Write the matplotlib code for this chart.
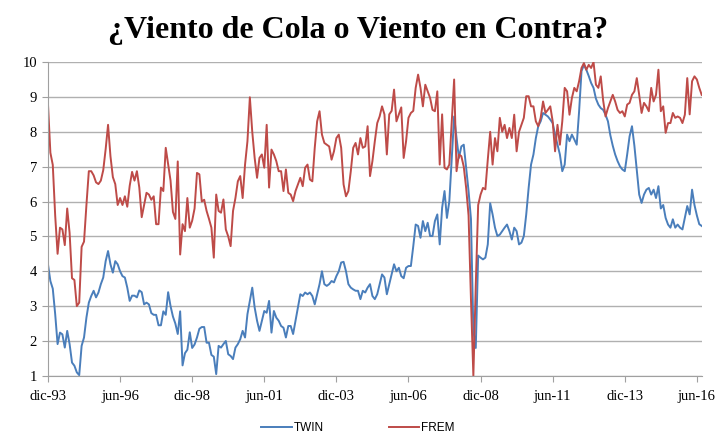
import matplotlib
matplotlib.use("Agg")
import matplotlib.pyplot as plt

# monthly values, dic-93 onwards
twin = [
    4.2, 3.72, 3.5, 2.77, 1.91, 2.24, 2.19, 1.81, 2.29, 1.91, 1.38, 1.29,
    1.1, 1.02, 1.86, 2.1, 2.67, 3.1, 3.29, 3.44, 3.25, 3.39, 3.63, 3.82,
    4.29, 4.58, 4.2, 3.96, 4.29, 4.2, 4.0, 3.86, 3.82, 3.53, 3.15, 3.3,
    3.3, 3.25, 3.45, 3.4, 3.05, 3.1, 3.05, 2.8, 2.75, 2.75, 2.45, 2.45,
    2.85, 2.75, 3.4, 3.0, 2.7, 2.5, 2.2, 2.85, 1.3, 1.65, 1.75, 2.25,
    1.8, 1.9, 2.1, 2.35, 2.4, 2.4, 1.95, 1.95, 1.6, 1.55, 1.05, 1.86,
    1.81, 1.91, 2.0, 1.62, 1.57, 1.48, 1.81, 1.91, 2.05, 2.29, 2.1, 2.77,
    3.15, 3.53, 2.96, 2.58, 2.29, 2.58, 2.86, 2.81, 3.15, 2.24, 2.86, 2.67,
    2.58, 2.43, 2.38, 2.1, 2.43, 2.43, 2.2, 2.58, 2.96, 3.34, 3.29, 3.39,
    3.34, 3.39, 3.29, 3.05, 3.34, 3.63, 4.0, 3.63, 3.58, 3.63, 3.72, 3.68,
    3.86, 4.0, 4.25, 4.27, 4.0, 3.63, 3.53, 3.48, 3.44, 3.44, 3.2, 3.44,
    3.39, 3.53, 3.63, 3.29, 3.2, 3.34, 3.63, 3.91, 3.82, 3.34, 3.63, 3.91,
    4.2, 4.0, 4.1, 3.86, 3.8, 4.1, 4.15, 4.15, 4.72, 5.34, 5.3, 4.96,
    5.44, 5.15, 5.39, 5.01, 5.01, 5.44, 5.63, 4.77, 5.82, 6.3, 5.53, 6.01,
    7.25, 8.44, 7.82, 7.25, 7.58, 7.63, 6.97, 6.3, 5.5, 2.3, 1.8, 4.45,
    4.39, 4.34, 4.39, 4.77, 5.95, 5.63, 5.25, 5.01, 5.05, 5.15, 5.25, 5.34,
    5.15, 4.91, 5.25, 5.15, 4.77, 4.82, 5.01, 5.63, 6.39, 7.06, 7.35, 7.82,
    8.16, 8.3, 8.54, 8.49, 8.44, 8.35, 8.25, 7.92, 7.63, 7.35, 6.87, 7.06,
    7.92, 7.73, 7.92, 7.78, 7.63, 8.59, 9.74, 9.92, 9.78, 9.6, 9.4, 9.26,
    8.95, 8.78, 8.68, 8.63, 8.49, 8.3, 7.9, 7.6, 7.35, 7.16, 7.01, 6.92,
    6.87, 7.35, 7.87, 8.16, 7.6, 6.9, 6.2, 5.96, 6.2, 6.34, 6.39, 6.2,
    6.34, 6.1, 6.44, 5.8, 5.9, 5.53, 5.34, 5.25, 5.49, 5.25, 5.34, 5.25,
    5.2, 5.53, 5.87, 5.63, 6.34, 5.9, 5.6, 5.35, 5.3,
]

frem = [
    8.8, 7.4, 7.05, 5.6, 4.5, 5.25, 5.2, 4.75, 5.8, 5.1, 3.8, 3.75,
    3.0, 3.1, 4.7, 4.85, 5.9, 6.87, 6.87, 6.75, 6.55, 6.5, 6.6, 6.9,
    7.5, 8.2, 7.3, 6.7, 6.5, 5.9, 6.1, 5.9, 6.15, 5.85, 6.45, 6.85,
    6.6, 6.87, 6.4, 5.55, 5.9, 6.25, 6.2, 6.05, 6.15, 5.35, 5.35, 6.4,
    6.3, 7.54, 7.06, 6.6, 5.7, 5.5, 7.15, 4.48, 5.35, 5.15, 6.1, 5.25,
    5.45, 5.8, 6.82, 6.78, 6.0, 6.05, 5.73, 5.5, 5.25, 4.39, 6.2, 5.73,
    5.68, 6.06, 5.2, 5.0, 4.72, 5.73, 6.1, 6.58, 6.73, 6.1, 7.06, 7.73,
    8.99, 8.0, 7.25, 6.68, 7.25, 7.35, 6.97, 8.2, 6.4, 7.49, 7.35, 7.16,
    6.87, 6.87, 6.3, 6.92, 6.25, 6.2, 6.01, 6.3, 6.49, 6.68, 6.44, 6.97,
    7.06, 6.63, 6.58, 7.54, 8.3, 8.59, 7.92, 7.68, 7.63, 7.58, 7.2, 7.44,
    7.82, 7.92, 7.54, 6.49, 6.15, 6.3, 6.87, 7.54, 7.68, 7.35, 7.82, 7.54,
    7.58, 8.16, 6.73, 7.16, 7.73, 8.25, 8.44, 8.73, 8.5, 7.35, 8.5, 8.6,
    9.21, 8.3, 8.5, 8.7, 7.25, 7.73, 8.4, 8.54, 8.6, 9.26, 9.64, 9.26,
    8.73, 9.35, 9.16, 8.97, 8.63, 8.59, 9.16, 7.06, 8.5, 6.97, 6.92, 7.06,
    8.3, 9.5, 6.87, 7.35, 7.3, 7.0, 6.39, 5.6, 3.2, 1.0, 3.6, 5.9,
    6.2, 6.39, 6.35, 7.2, 8.0, 7.06, 7.82, 7.44, 8.4, 8.0, 8.2, 7.82,
    8.11, 7.82, 8.49, 7.44, 8.0, 8.2, 8.4, 9.02, 9.02, 8.73, 8.73, 8.3,
    8.16, 8.4, 8.87, 8.54, 8.63, 8.73, 8.3, 7.44, 8.2, 7.63, 8.3, 9.26,
    9.16, 8.49, 8.97, 9.26, 9.16, 9.45, 9.83, 9.97, 9.78, 9.92, 9.83, 10.0,
    9.35, 9.26, 9.59, 8.9, 8.44, 8.68, 8.87, 9.06, 8.87, 8.63, 8.54, 8.59,
    8.44, 8.78, 8.83, 9.06, 9.16, 9.54, 9.06, 8.54, 8.83, 8.73, 8.59, 9.26,
    8.87, 9.06, 9.78, 8.59, 8.73, 7.97, 8.25, 8.25, 8.54, 8.4, 8.44, 8.4,
    8.25, 8.49, 9.54, 8.5, 9.45, 9.59, 9.5, 9.26, 9.06,
]

tick_labels = ["dic-93", "jun-96", "dic-98", "jun-01", "dic-03",
               "jun-06", "dic-08", "jun-11", "dic-13", "jun-16"]
yticks = [1, 2, 3, 4, 5, 6, 7, 8, 9, 10]

months = list(range(len(twin)))

fig = plt.figure(figsize=(7.16, 4.34), dpi=100)
ax = fig.add_axes([0.067, 0.134, 0.913, 0.723])

ax.plot(months, twin, color="#4a7ebb", lw=1.4, label="TWIN")
ax.plot(months, frem, color="#be4b48", lw=1.4, label="FREM")

ax.set_xlim(0, len(twin) - 1)
ax.set_ylim(1, 10)
ax.set_yticks(yticks)
ax.set_xticks(months[::30])
ax.set_xticklabels(tick_labels)

ax.yaxis.grid(True, color="#b0b0b0", lw=1.0)
ax.set_axisbelow(True)
for s in ["top", "right"]:
    ax.spines[s].set_visible(False)
ax.spines["left"].set_color("#a0a0a0")
ax.spines["bottom"].set_color("#a0a0a0")
ax.tick_params(axis="both", colors="#a0a0a0", length=4, labelcolor="black",
               labelsize=10.5)
for lbl in ax.get_xticklabels() + ax.get_yticklabels():
    lbl.set_family("Liberation Serif")
ax.tick_params(axis="x", pad=6)
ax.tick_params(axis="y", pad=4)

fig.text(0.5, 0.93, "¿Viento de Cola o Viento en Contra?", ha="center",
         va="center", fontsize=23, fontweight="bold", family="Liberation Serif")

fig.legend(loc="lower center", bbox_to_anchor=(0.5, -0.025), ncol=2,
           frameon=False, handlelength=2.6, columnspacing=5.5,
           handletextpad=0.15, prop={"family": "Liberation Sans", "size": 8.5})

fig.savefig("out.png", dpi=100)
